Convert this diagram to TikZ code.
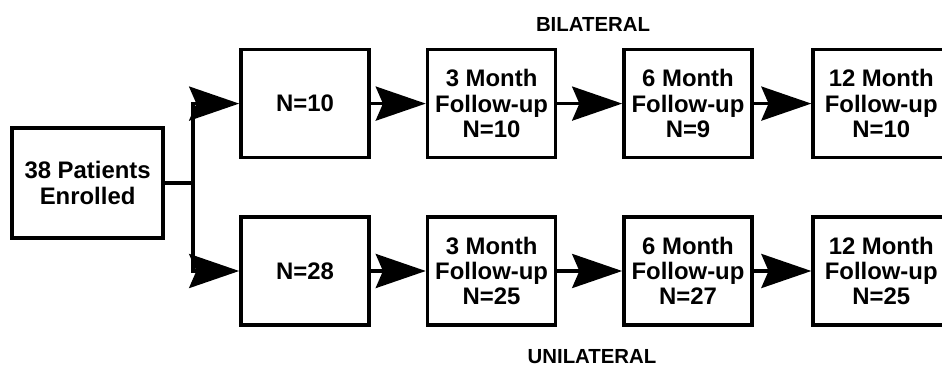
\documentclass[tikz,border=0pt]{standalone}
\usepackage{fontspec}
\setmainfont{Liberation Sans}
\usetikzlibrary{arrows.meta}
\tikzset{
  stagebox/.style={draw, line width=2.6pt, minimum width=3.2cm, minimum height=2.7cm,
    align=center, inner sep=2pt, font=\fontsize{17}{18}\selectfont\bfseries},
  lastbox/.style={stagebox, minimum width=3.4cm},
  flowarrow/.style={line width=2.6pt, -{Stealth[length=1.25cm,width=0.85cm,inset=0.18cm]}},
  armlabel/.style={font=\fontsize{14.5}{16}\selectfont\bfseries}
}
\begin{document}
\begin{tikzpicture}
\useasboundingbox (0,0) rectangle (23.55,9.15);

% Enrolment and split
\node[stagebox, minimum width=3.78cm, minimum height=2.75cm] (enrol) at (2.19,4.575) {38 Patients\\Enrolled};
\coordinate (split) at (4.825,4.575);
\coordinate (splittop) at (4.825,6.56);
\coordinate (splitbot) at (4.825,2.375);
\draw[line width=2.6pt] (enrol.east) -- (split);
\draw[line width=2.6pt, line cap=rect] (splittop) -- (splitbot);

% Bilateral arm
\node[stagebox] (bi0) at (7.625,6.56) {N=10};
\node[stagebox] (bi3) at (12.29,6.56) {3 Month\\Follow-up\\N=10};
\node[stagebox] (bi6) at (17.2,6.56) {6 Month\\Follow-up\\N=9};
\node[lastbox] (bi12) at (22.03,6.56) {12 Month\\Follow-up\\N=10};
\node[armlabel] (bilabel) at (14.825,8.54) {BILATERAL};

% Unilateral arm
\node[stagebox] (un0) at (7.625,2.375) {N=28};
\node[stagebox] (un3) at (12.29,2.375) {3 Month\\Follow-up\\N=25};
\node[stagebox] (un6) at (17.2,2.375) {6 Month\\Follow-up\\N=27};
\node[lastbox] (un12) at (22.03,2.375) {12 Month\\Follow-up\\N=25};
\node[armlabel] (unilabel) at (14.8,0.24) {UNILATERAL};

% Arrows
\draw[flowarrow] (splittop) -- (bi0.west);
\draw[flowarrow] (splitbot) -- (un0.west);
\draw[flowarrow] (bi0) -- (bi3);
\draw[flowarrow] (bi3) -- (bi6);
\draw[flowarrow] (bi6) -- (bi12);
\draw[flowarrow] (un0) -- (un3);
\draw[flowarrow] (un3) -- (un6);
\draw[flowarrow] (un6) -- (un12);
\end{tikzpicture}
\end{document}
